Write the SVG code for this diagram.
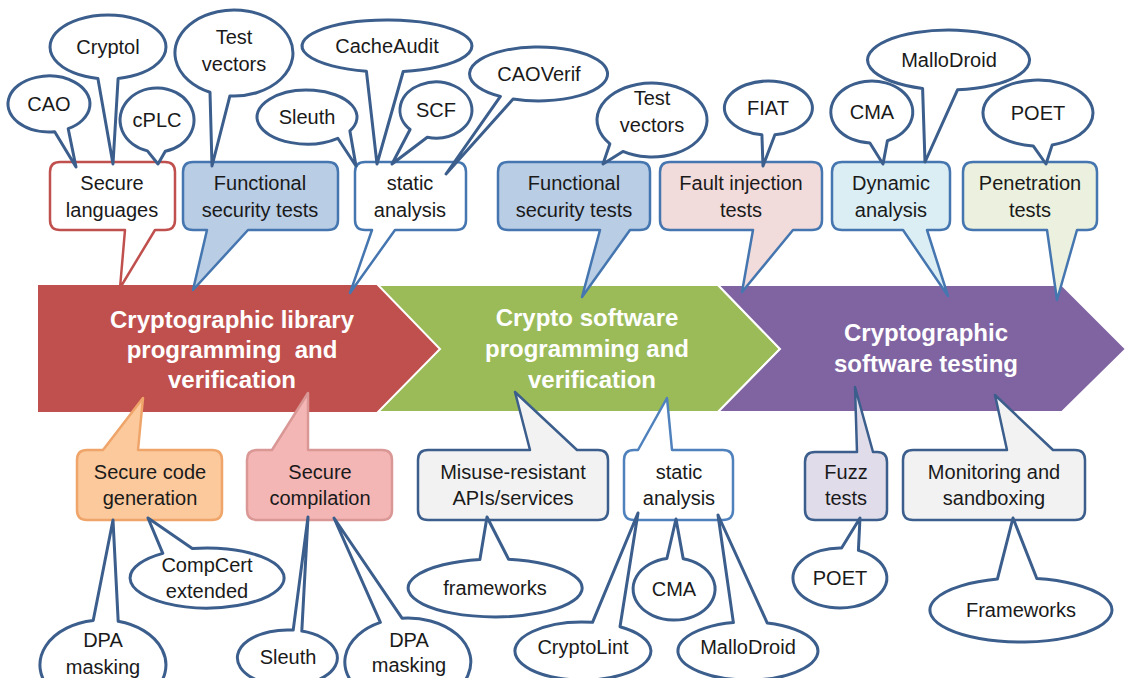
<svg xmlns="http://www.w3.org/2000/svg" width="1126" height="678" viewBox="0 0 1126 678">
<style>
.stg{font-family:"Liberation Sans",Arial,sans-serif;font-weight:bold;font-size:24px;fill:#fff;text-anchor:middle}
.lbl{font-family:"Liberation Sans",Arial,sans-serif;font-size:20px;fill:#1a1a1a;text-anchor:middle}
.ell{fill:#fff;stroke:#3B5E8C;stroke-width:3;stroke-linejoin:round}
.box{stroke-width:2.5;stroke-linejoin:round}
.blue{stroke:#4576B0}
.dark{stroke:#3B5E8C}
</style>
<rect width="1126" height="678" fill="#fff"/>
<g id="stages">
<g id="stage1"><path d="M38,285 H378 L440,349 L378,412 H38 Z" fill="#C0504D"/>
<text class="stg" x="232" y="328">Cryptographic library</text>
<text class="stg" x="232" y="358" xml:space="preserve">programming  and</text>
<text class="stg" x="232" y="388">verification</text></g>
<g id="stage2"><path d="M378,285 H718 L780,349 L718,412 H378 L440,349 Z" fill="#9BBB59" stroke="#fff" stroke-width="2"/>
<text class="stg" x="587" y="326">Crypto software</text>
<text class="stg" x="587" y="357">programming and</text>
<text class="stg" x="592" y="388">verification</text></g>
<g id="stage3"><path d="M718,285 H1062 L1126,349 L1062,412 H718 L780,349 Z" fill="#8064A2" stroke="#fff" stroke-width="2"/>
<text class="stg" x="926" y="341">Cryptographic</text>
<text class="stg" x="926" y="372">software testing</text></g>
</g>
<g id="boxes">
<g id="secure-languages"><path class="box" fill="#fff" stroke="#C0504D" d="M60,162 H165 Q175,162 175,172 V220 Q175,230 165,230 H155 L120,288 L125,230 H60 Q50,230 50,220 V172 Q50,162 60,162 Z"/>
<text class="lbl" x="112" y="190">Secure</text><text class="lbl" x="112" y="217">languages</text></g>
<g id="functional-1"><path class="box blue" fill="#B9CDE5" d="M193,162 H328 Q338,162 338,172 V220 Q338,230 328,230 H248 L193,290 L207,230 H193 Q183,230 183,220 V172 Q183,162 193,162 Z"/>
<text class="lbl" x="260" y="190">Functional</text><text class="lbl" x="260" y="217">security tests</text></g>
<g id="static-1"><path class="box blue" fill="#fff" d="M365,162 H456 Q466,162 466,172 V220 Q466,230 456,230 H395 L350,293 L372,230 H365 Q355,230 355,220 V172 Q355,162 365,162 Z"/>
<text class="lbl" x="410" y="190">static</text><text class="lbl" x="410" y="217">analysis</text></g>
<g id="functional-2"><path class="box blue" fill="#B9CDE5" d="M508,162 H640 Q650,162 650,172 V220 Q650,230 640,230 H630 L582,297 L600,230 H508 Q498,230 498,220 V172 Q498,162 508,162 Z"/>
<text class="lbl" x="574" y="190">Functional</text><text class="lbl" x="574" y="217">security tests</text></g>
<g id="fault-injection"><path class="box blue" fill="#F2DCDB" d="M670,162 H812 Q822,162 822,172 V220 Q822,230 812,230 H793 L742,292 L753,230 H670 Q660,230 660,220 V172 Q660,162 670,162 Z"/>
<text class="lbl" x="741" y="190">Fault injection</text><text class="lbl" x="741" y="217">tests</text></g>
<g id="dynamic"><path class="box blue" fill="#DBEEF4" d="M842,162 H940 Q950,162 950,172 V220 Q950,230 940,230 H927 L948,296 L903,230 H842 Q832,230 832,220 V172 Q832,162 842,162 Z"/>
<text class="lbl" x="891" y="190">Dynamic</text><text class="lbl" x="891" y="217">analysis</text></g>
<g id="penetration"><path class="box blue" fill="#EBF1DE" d="M973,162 H1087 Q1097,162 1097,172 V220 Q1097,230 1087,230 H1077 L1057,300 L1047,230 H973 Q963,230 963,220 V172 Q963,162 973,162 Z"/>
<text class="lbl" x="1030" y="190">Penetration</text><text class="lbl" x="1030" y="217">tests</text></g>
<g id="secure-code-gen"><path class="box" fill="#FBC99C" stroke="#EFA56A" d="M87,450 H103 L143,398 L138,450 H212 Q222,450 222,460 V510 Q222,520 212,520 H87 Q77,520 77,510 V460 Q77,450 87,450 Z"/>
<text class="lbl" x="150" y="479">Secure code</text><text class="lbl" x="150" y="505">generation</text></g>
<g id="secure-compilation"><path class="box" fill="#F4B6B5" stroke="#D99795" d="M257,450 H272 L308,393 L308,450 H382 Q392,450 392,460 V510 Q392,520 382,520 H257 Q247,520 247,510 V460 Q247,450 257,450 Z"/>
<text class="lbl" x="320" y="479">Secure</text><text class="lbl" x="320" y="505">compilation</text></g>
<g id="misuse"><path class="box dark" fill="#F2F2F2" d="M428,450 H530 L515,392 L577,450 H598 Q608,450 608,460 V510 Q608,520 598,520 H428 Q418,520 418,510 V460 Q418,450 428,450 Z"/>
<text class="lbl" x="513" y="479">Misuse-resistant</text><text class="lbl" x="513" y="505">APIs/services</text></g>
<g id="static-2"><path class="box" fill="#fff" stroke="#4F81BD" d="M634,450 H638 L667,398 L672,450 H723 Q733,450 733,460 V510 Q733,520 723,520 H634 Q624,520 624,510 V460 Q624,450 634,450 Z"/>
<text class="lbl" x="679" y="479">static</text><text class="lbl" x="679" y="505">analysis</text></g>
<g id="fuzz"><path class="box dark" fill="#E1DCEA" d="M815,452 H857 L855,387 L873,452 H877 Q887,452 887,462 V510 Q887,520 877,520 H815 Q805,520 805,510 V462 Q805,452 815,452 Z"/>
<text class="lbl" x="846" y="479">Fuzz</text><text class="lbl" x="846" y="505">tests</text></g>
<g id="monitoring"><path class="box dark" fill="#F2F2F2" d="M913,450 H1007 L995,395 L1053,450 H1075 Q1085,450 1085,460 V510 Q1085,520 1075,520 H913 Q903,520 903,510 V460 Q903,450 913,450 Z"/>
<text class="lbl" x="994" y="479">Monitoring and</text><text class="lbl" x="994" y="505">sandboxing</text></g>
</g>
<g id="tools">
<g id="cao"><path class="ell" d="M68.2,128.7 L76,167 L54.7,131.7 A41,28 0 1 1 68.2,128.7 Z"/><text class="lbl" x="49" y="111">CAO</text></g>
<g id="cryptol"><path class="ell" d="M118.1,78.5 L113,164 L97.9,78.5 A58,32 0 1 1 118.1,78.5 Z"/><text class="lbl" x="108" y="54">Cryptol</text></g>
<g id="cplc"><path class="ell" d="M165.3,151.2 L158,164 L147.4,150.9 A37,32 0 1 1 165.3,151.2 Z"/><text class="lbl" x="157" y="127">cPLC</text></g>
<g id="test-vectors-1"><path class="ell" d="M229.9,95.9 L212,166 L210,92.3 A59,43 0 1 1 229.9,95.9 Z"/><text class="lbl" x="234" y="44">Test</text><text class="lbl" x="234" y="71">vectors</text></g>
<g id="sleuth-1"><path class="ell" d="M349.9,130.9 L356,166 L337.8,138.3 A50,27 0 1 1 349.9,130.9 Z"/><text class="lbl" x="307" y="124">Sleuth</text></g>
<g id="cacheaudit"><path class="ell" d="M403.2,71.5 L377,164 L366.4,71.2 A85,26 0 1 1 403.2,71.5 Z"/><text class="lbl" x="387" y="53">CacheAudit</text></g>
<g id="scf"><path class="ell" d="M427.3,137.2 L392,164 L410.1,129.5 A36,28 0 1 1 427.3,137.2 Z"/><text class="lbl" x="436" y="117">SCF</text></g>
<g id="caoverif"><path class="ell" d="M513.1,99 L446,174 L500.4,96.4 A69,27 0 1 1 513.1,99 Z"/><text class="lbl" x="539" y="81">CAOVerif</text></g>
<g id="test-vectors-2"><path class="ell" d="M622.9,151.4 L603,164 L609.9,143.8 A55,37 0 1 1 622.9,151.4 Z"/><text class="lbl" x="652" y="105">Test</text><text class="lbl" x="652" y="132">vectors</text></g>
<g id="fiat"><path class="ell" d="M774.9,134.7 L763,166 L761.9,134.7 A44,27 0 1 1 774.9,134.7 Z"/><text class="lbl" x="768" y="115">FIAT</text></g>
<g id="cma-1"><path class="ell" d="M887.4,140.7 L883,164 L869.9,143 A41,31 0 1 1 887.4,140.7 Z"/><text class="lbl" x="872" y="119">CMA</text></g>
<g id="mallodroid-1"><path class="ell" d="M957.5,89.8 L925,162 L922.6,88.4 A81,30 0 1 1 957.5,89.8 Z"/><text class="lbl" x="949" y="67">MalloDroid</text></g>
<g id="poet-1"><path class="ell" d="M1052.2,144.9 L1046,164 L1033.2,145.9 A55,33 0 1 1 1052.2,144.9 Z"/><text class="lbl" x="1038" y="120">POET</text></g>
<g id="dpa-1"><path class="ell" d="M93.2,620.5 L113,520 L118.2,621.3 A63,45 0 1 1 93.2,620.5 Z"/><text class="lbl" x="103" y="647">DPA</text><text class="lbl" x="103" y="674">masking</text></g>
<g id="compcert"><path class="ell" d="M162.8,553.4 L148,518 L192.3,548.5 A77,30 0 1 1 162.8,553.4 Z"/><text class="lbl" x="207" y="572">CompCert</text><text class="lbl" x="207" y="598">extended</text></g>
<g id="sleuth-2"><path class="ell" d="M293.2,630.1 L308,517 L301.8,631.1 A50,28 0 1 1 293.2,630.1 Z"/><text class="lbl" x="288" y="664">Sleuth</text></g>
<g id="dpa-2"><path class="ell" d="M380.4,622.4 L334,518 L402,618.2 A63,44 0 1 1 380.4,622.4 Z"/><text class="lbl" x="409" y="647">DPA</text><text class="lbl" x="409" y="672">masking</text></g>
<g id="frameworks-1"><path class="ell" d="M479.9,559.4 L487,517 L508.6,559.3 A87,29 0 1 1 479.9,559.4 Z"/><text class="lbl" x="495" y="595">frameworks</text></g>
<g id="cma-2"><path class="ell" d="M666.9,558.5 L676,519 L683.2,558.8 A41,31 0 1 1 666.9,558.5 Z"/><text class="lbl" x="674" y="596">CMA</text></g>
<g id="cryptolint"><path class="ell" d="M592.5,622.3 L638,513 L620,626.7 A68,29 0 1 1 592.5,622.3 Z"/><text class="lbl" x="583" y="654">CryptoLint</text></g>
<g id="mallodroid-2"><path class="ell" d="M733.4,622.6 L718,515 L767.3,623.1 A70,29 0 1 1 733.4,622.6 Z"/><text class="lbl" x="748" y="654">MalloDroid</text></g>
<g id="poet-2"><path class="ell" d="M841.6,548 L860,518 L858.4,550.4 A47,30 0 1 1 841.6,548 Z"/><text class="lbl" x="840" y="585">POET</text></g>
<g id="frameworks-2"><path class="ell" d="M997.4,579.1 L1013,518 L1036.8,578.5 A91,32 0 1 1 997.4,579.1 Z"/><text class="lbl" x="1021" y="617">Frameworks</text></g>
</g>
</svg>
